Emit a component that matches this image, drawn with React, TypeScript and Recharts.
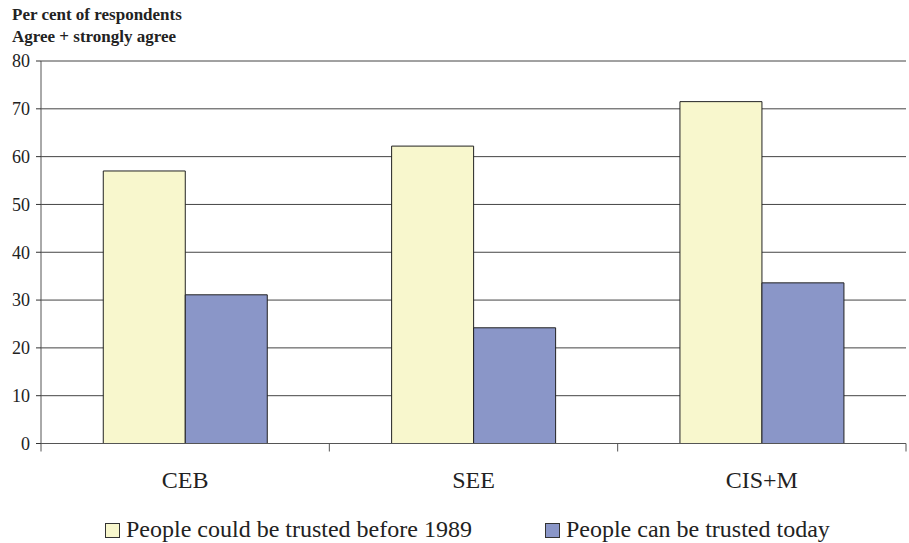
import React from 'react';
import { BarChart, Bar, XAxis, YAxis, CartesianGrid, Legend } from 'recharts';

const categories = ['CEB', 'SEE', 'CIS+M'];
const beforeValues = [57.0, 62.2, 71.5];
const todayValues = [31.1, 24.2, 33.6];
const yTicks = [0, 10, 20, 30, 40, 50, 60, 70, 80];
const seriesNames = ['People could be trusted before 1989', 'People can be trusted today'];
const titleLines = ['Per cent of respondents', 'Agree + strongly agree'];

const data = categories.map((c, i) => ({ cat: c, before: beforeValues[i], today: todayValues[i] }));

const W = 909;
const H = 543;
const MARGIN = { top: 61, right: 3, left: 0, bottom: 0 };
const Y_W = 41;
const BAND = (W - MARGIN.left - Y_W - MARGIN.right) / categories.length;
const FONT = "Liberation Serif, Tinos, Times New Roman, DejaVu Serif, serif";

const CatTick = (props: any) => {
  const { x, y, payload, index } = props;
  const half = BAND / 2;
  const last = index === categories.length - 1;
  return (
    <g>
      <line x1={x - half} x2={x - half} y1={y - 8} y2={y} stroke="#555" strokeWidth={1} />
      {last && <line x1={x + half} x2={x + half} y1={y - 8} y2={y} stroke="#555" strokeWidth={1} />}
      <text x={x} y={y} dy={36.5} textAnchor="middle" style={{ fontFamily: FONT }} fontSize={24} fill="#222">
        {payload.value}
      </text>
    </g>
  );
};

const LegendContent = (props: any) => {
  const payload = [...(props.payload || [])].sort(
    (a: any, b: any) => seriesNames.indexOf(a.value) - seriesNames.indexOf(b.value)
  );
  return (
    <div style={{ display: 'flex', height: 30, paddingLeft: 105, paddingTop: 2, boxSizing: 'border-box', alignItems: 'flex-start' }}>
      {payload.map((p: any, i: number) => (
        <div key={i} style={{ display: 'flex', alignItems: 'center', marginRight: 73, fontFamily: FONT, fontSize: 24, lineHeight: '28px', color: '#222', whiteSpace: 'nowrap' }}>
          <span style={{ display: 'inline-block', width: 13, height: 13, background: p.color, border: '1px solid #333', marginRight: 6, marginTop: 2 }} />
          <span>{p.value}</span>
        </div>
      ))}
    </div>
  );
};

export default function App() {
  return (
    <div style={{ position: 'absolute', left: 0, top: 0, width: W, height: H, background: '#fff', fontFamily: FONT }}>
      <div style={{ position: 'absolute', left: 12, top: 4, fontFamily: FONT, fontWeight: 'bold', fontSize: 17, lineHeight: '22px', color: '#222', zIndex: 2 }}>
        {titleLines.map((t, i) => (
          <div key={i}>{t}</div>
        ))}
      </div>
      <BarChart width={W} height={H} data={data} margin={MARGIN} barCategoryGap="21.6%" barGap={0}>
        <CartesianGrid vertical={false} stroke="#444" strokeWidth={1} />
        <XAxis
          dataKey="cat"
          height={69.5}
          tickLine={false}
          tickSize={8}
          tickMargin={0}
          axisLine={{ stroke: '#555' }}
          tick={<CatTick />}
          interval={0}
        />
        <YAxis
          width={Y_W}
          domain={[0, 80]}
          ticks={yTicks}
          tickSize={5}
          tickMargin={6}
          axisLine={{ stroke: '#555' }}
          tickLine={{ stroke: '#333' }}
          tick={{ fontSize: 18, fill: '#222', style: { fontFamily: FONT } }}
          interval={0}
        />
        <Legend verticalAlign="bottom" content={<LegendContent />} />
        <Bar dataKey="before" name={seriesNames[0]} fill="#F8F7CD" stroke="#222" strokeWidth={1} isAnimationActive={false} />
        <Bar dataKey="today" name={seriesNames[1]} fill="#8A96C8" stroke="#222" strokeWidth={1} isAnimationActive={false} />
      </BarChart>
    </div>
  );
}
